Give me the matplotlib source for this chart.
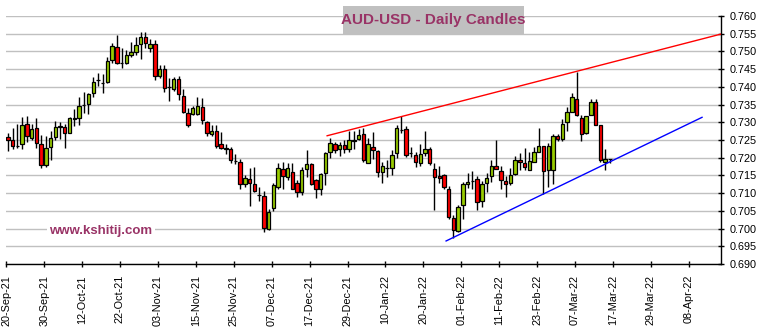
import numpy as np
import pandas as pd
import matplotlib
matplotlib.use("Agg")
from matplotlib import pyplot as plt
from matplotlib.patches import Rectangle

plt.rcParams["font.family"] = ["Liberation Sans", "DejaVu Sans"]

# AUD-USD daily OHLC, one row per business day starting 20-Sep-21
start_date = "2021-09-20"
opens = [
    0.7258, 0.7249, 0.7234, 0.7239, 0.7295, 0.7255, 0.7283, 0.7238, 0.7179, 0.7229,
    0.7258, 0.7288, 0.7286, 0.7271, 0.7310, 0.7311, 0.7349, 0.7353, 0.7382, 0.7419,
    0.7412, 0.7413, 0.7475, 0.7512, 0.7467, 0.7466, 0.7491, 0.7499, 0.7520, 0.7542,
    0.7509, 0.7520, 0.7432, 0.7450, 0.7401, 0.7393, 0.7422, 0.7374, 0.7326, 0.7323,
    0.7323, 0.7342, 0.7300, 0.7266, 0.7275, 0.7238, 0.7226, 0.7224, 0.7192, 0.7187,
    0.7126, 0.7139, 0.7125, 0.7096, 0.7092, 0.6999, 0.7058, 0.7118, 0.7168, 0.7146,
    0.7159, 0.7128, 0.7104, 0.7168, 0.7181, 0.7137, 0.7111, 0.7156, 0.7215, 0.7238,
    0.7225, 0.7235, 0.7226, 0.7248, 0.7252, 0.7267, 0.7186, 0.7231, 0.7220, 0.7160,
    0.7170, 0.7170, 0.7212, 0.7278, 0.7280, 0.7212, 0.7208, 0.7184, 0.7212, 0.7224,
    0.7167, 0.7148, 0.7150, 0.7111, 0.7029, 0.6993, 0.7067, 0.7126, 0.7134, 0.7139,
    0.7077, 0.7128, 0.7147, 0.7177, 0.7162, 0.7133, 0.7128, 0.7153, 0.7194, 0.7184,
    0.7164, 0.7189, 0.7217, 0.7233, 0.7165, 0.7165, 0.7260, 0.7252, 0.7301, 0.7328,
    0.7365, 0.7311, 0.7269, 0.7321, 0.7356, 0.7293, 0.7189, 0.7196,
]
highs = [
    0.7270, 0.7283, 0.7296, 0.7314, 0.7318, 0.7296, 0.7311, 0.7264, 0.7261, 0.7275,
    0.7304, 0.7301, 0.7296, 0.7314, 0.7338, 0.7372, 0.7385, 0.7382, 0.7427, 0.7438,
    0.7435, 0.7485, 0.7525, 0.7547, 0.7511, 0.7504, 0.7528, 0.7540, 0.7554, 0.7554,
    0.7535, 0.7532, 0.7462, 0.7462, 0.7424, 0.7429, 0.7431, 0.7393, 0.7339, 0.7346,
    0.7371, 0.7369, 0.7305, 0.7292, 0.7292, 0.7272, 0.7238, 0.7231, 0.7210, 0.7196,
    0.7151, 0.7172, 0.7175, 0.7116, 0.7107, 0.7055, 0.7129, 0.7184, 0.7187, 0.7186,
    0.7186, 0.7137, 0.7175, 0.7223, 0.7184, 0.7139, 0.7156, 0.7217, 0.7255, 0.7245,
    0.7245, 0.7250, 0.7274, 0.7275, 0.7280, 0.7283, 0.7257, 0.7272, 0.7222, 0.7189,
    0.7193, 0.7222, 0.7292, 0.7318, 0.7290, 0.7231, 0.7217, 0.7239, 0.7275, 0.7231,
    0.7184, 0.7177, 0.7154, 0.7120, 0.7038, 0.7066, 0.7131, 0.7157, 0.7163, 0.7148,
    0.7133, 0.7156, 0.7194, 0.7250, 0.7177, 0.7148, 0.7170, 0.7205, 0.7212, 0.7227,
    0.7217, 0.7231, 0.7283, 0.7233, 0.7241, 0.7266, 0.7267, 0.7309, 0.7344, 0.7382,
    0.7442, 0.7321, 0.7318, 0.7365, 0.7365, 0.7293, 0.7225, 0.7197,
]
lows = [
    0.7220, 0.7224, 0.7227, 0.7224, 0.7245, 0.7250, 0.7227, 0.7172, 0.7175, 0.7193,
    0.7251, 0.7252, 0.7228, 0.7269, 0.7290, 0.7292, 0.7325, 0.7323, 0.7371, 0.7402,
    0.7382, 0.7410, 0.7466, 0.7465, 0.7454, 0.7465, 0.7485, 0.7490, 0.7480, 0.7509,
    0.7498, 0.7419, 0.7424, 0.7385, 0.7360, 0.7387, 0.7363, 0.7325, 0.7288, 0.7321,
    0.7321, 0.7294, 0.7260, 0.7260, 0.7227, 0.7224, 0.7210, 0.7184, 0.7182, 0.7113,
    0.7116, 0.7064, 0.7104, 0.7079, 0.6990, 0.6996, 0.7049, 0.7113, 0.7113, 0.7137,
    0.7113, 0.7090, 0.7095, 0.7146, 0.7123, 0.7086, 0.7096, 0.7123, 0.7198, 0.7214,
    0.7206, 0.7212, 0.7217, 0.7226, 0.7250, 0.7189, 0.7186, 0.7196, 0.7146, 0.7129,
    0.7146, 0.7151, 0.7198, 0.7269, 0.7201, 0.7203, 0.7173, 0.7177, 0.7205, 0.7179,
    0.7052, 0.7128, 0.7113, 0.7026, 0.6972, 0.6989, 0.7026, 0.7114, 0.7113, 0.7052,
    0.7062, 0.7104, 0.7132, 0.7168, 0.7112, 0.7090, 0.7123, 0.7151, 0.7165, 0.7165,
    0.7164, 0.7189, 0.7217, 0.7098, 0.7117, 0.7126, 0.7246, 0.7246, 0.7274, 0.7328,
    0.7319, 0.7246, 0.7267, 0.7321, 0.7291, 0.7189, 0.7164, 0.7184,
]
closes = [
    0.7251, 0.7232, 0.7234, 0.7292, 0.7261, 0.7280, 0.7241, 0.7179, 0.7227, 0.7255,
    0.7286, 0.7289, 0.7269, 0.7311, 0.7311, 0.7345, 0.7350, 0.7379, 0.7413, 0.7420,
    0.7412, 0.7472, 0.7515, 0.7466, 0.7466, 0.7490, 0.7498, 0.7517, 0.7540, 0.7523,
    0.7520, 0.7432, 0.7450, 0.7398, 0.7400, 0.7422, 0.7379, 0.7328, 0.7292, 0.7339,
    0.7346, 0.7306, 0.7269, 0.7275, 0.7234, 0.7227, 0.7227, 0.7194, 0.7191, 0.7126,
    0.7142, 0.7128, 0.7106, 0.7095, 0.7002, 0.7048, 0.7122, 0.7170, 0.7148, 0.7170,
    0.7113, 0.7104, 0.7165, 0.7181, 0.7125, 0.7111, 0.7154, 0.7212, 0.7242, 0.7223,
    0.7235, 0.7225, 0.7249, 0.7249, 0.7263, 0.7193, 0.7238, 0.7222, 0.7160, 0.7176,
    0.7170, 0.7207, 0.7283, 0.7279, 0.7207, 0.7213, 0.7187, 0.7210, 0.7226, 0.7184,
    0.7145, 0.7142, 0.7116, 0.7032, 0.6996, 0.7062, 0.7126, 0.7132, 0.7135, 0.7074,
    0.7127, 0.7144, 0.7176, 0.7168, 0.7138, 0.7125, 0.7151, 0.7194, 0.7187, 0.7175,
    0.7191, 0.7215, 0.7233, 0.7163, 0.7233, 0.7261, 0.7252, 0.7294, 0.7329, 0.7371,
    0.7321, 0.7267, 0.7318, 0.7356, 0.7293, 0.7194, 0.7195, 0.7196,
]

tick_labels = [
    "20-Sep-21", "30-Sep-21", "12-Oct-21", "22-Oct-21", "03-Nov-21", "15-Nov-21",
    "25-Nov-21", "07-Dec-21", "17-Dec-21", "29-Dec-21", "10-Jan-22", "20-Jan-22",
    "01-Feb-22", "11-Feb-22", "23-Feb-22", "07-Mar-22", "17-Mar-22", "29-Mar-22",
    "08-Apr-22",
]

# hand-drawn trend lines, in business-day index units
resistance_x = [67.7, 150.8]
resistance_y = [0.7262, 0.7549]
support_x = [92.8, 146.8]
support_y = [0.6965, 0.7314]

o = np.array(opens)
h = np.array(highs)
l = np.array(lows)
c = np.array(closes)

dates = pd.bdate_range(start_date, periods=160)
tick_pos = dates.get_indexer(pd.to_datetime(tick_labels, format="%d-%b-%y"))
x = np.arange(len(o)) + 0.35

fig = plt.figure(figsize=(7.63, 3.29), dpi=100)
ax = fig.add_axes([6 / 763, 1 - 264 / 329, 715 / 763, 248 / 329])

up = c >= o
colors = np.where(up, "#99CC00", "#FF0000")
ax.vlines(x, l, h, color="black", lw=1.0, zorder=3)
ax.bar(x, np.abs(c - o), bottom=np.minimum(o, c), width=0.72,
       color=colors, edgecolor="black", linewidth=0.9, zorder=4)

ax.plot(resistance_x, resistance_y, color="red", lw=1.0, zorder=5)
ax.plot(support_x, support_y, color="blue", lw=1.0, zorder=5)

ax.set_xlim(-0.05, 150.8)
ax.set_ylim(0.690, 0.760)
ax.set_yticks(np.arange(0.690, 0.7601, 0.005))
ax.yaxis.set_major_formatter(matplotlib.ticker.FormatStrFormatter("%.3f"))
ax.yaxis.tick_right()
ax.set_xticks(tick_pos)
ax.set_xticklabels(tick_labels, rotation=90)

ax.grid(axis="y", color="#C0C0C0", lw=1.0, zorder=0)
ax.set_axisbelow(True)
for side in ["left", "top"]:
    ax.spines[side].set_visible(False)
for side in ["right", "bottom"]:
    ax.spines[side].set_linewidth(1.0)
ax.tick_params(axis="y", direction="inout", length=4, width=1, pad=4,
               labelsize=7.8)
ax.tick_params(axis="x", direction="inout", length=5, width=1, pad=5.5,
               labelsize=7.8)

fig.patches.append(Rectangle((343 / 763, 1 - 34 / 329), 181 / 763, 28 / 329,
                             transform=fig.transFigure, facecolor="#C0C0C0",
                             edgecolor="none", zorder=10))
fig.text(433.5 / 763, 1 - 20 / 329, "AUD-USD - Daily Candles", ha="center",
         va="center", fontsize=11, fontweight="bold", color="#993366", zorder=11)
fig.text(101 / 763, 1 - 231 / 329, "www.kshitij.com", ha="center", va="center",
         fontsize=9.5, fontweight="bold", color="#993366", zorder=11,
         bbox=dict(facecolor="white", edgecolor="none", pad=1.5))

fig.savefig("out.png", dpi=100)
